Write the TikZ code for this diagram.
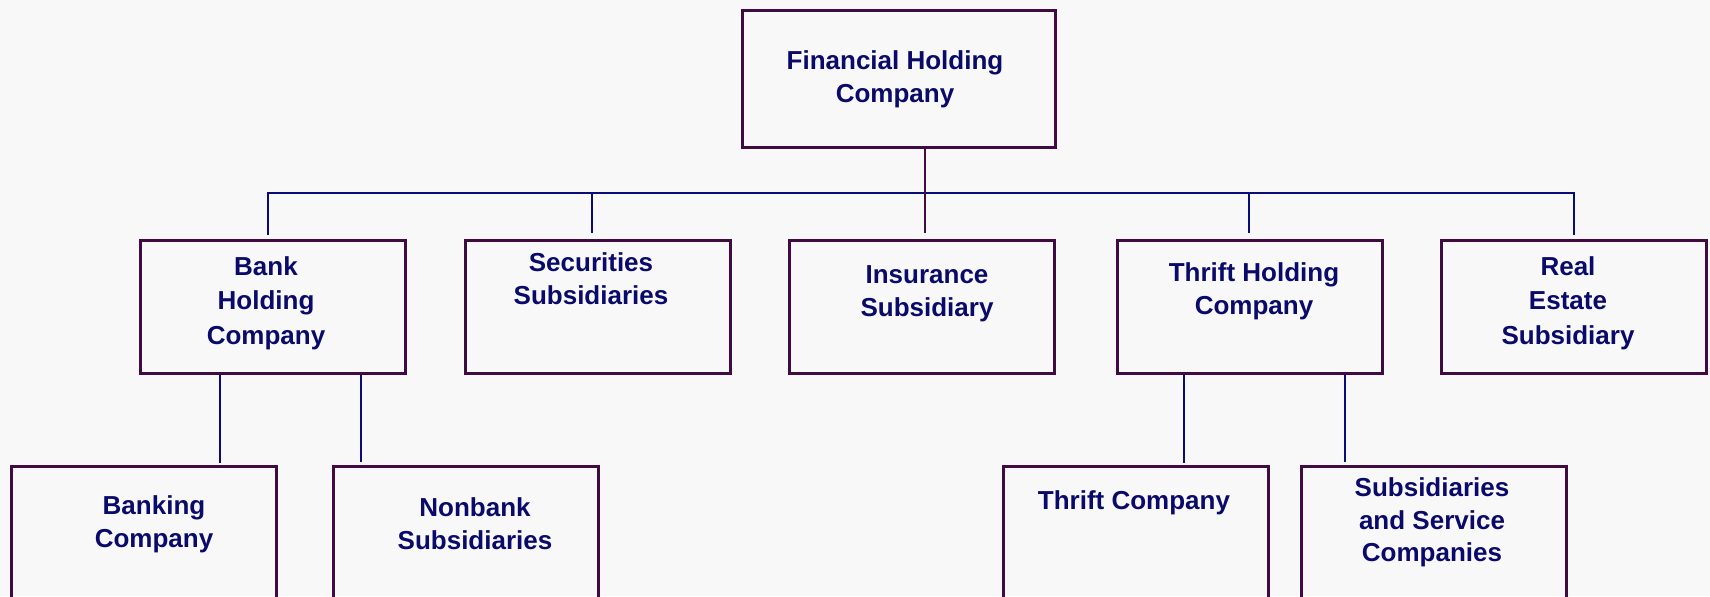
\documentclass[tikz,border=0pt]{standalone}
\usepackage{fontspec}
\setmainfont{Liberation Sans}
\definecolor{bgc}{HTML}{F8F8F8}
\definecolor{boxc}{HTML}{3F0B41}
\definecolor{txtc}{HTML}{0A0A6A}
\definecolor{linec}{HTML}{0A0A78}
\begin{document}
\begin{tikzpicture}[x=0.5pt,y=-0.5pt,
  box/.style={draw=boxc,line width=1.5pt,rectangle,inner sep=0pt,minimum height=66.5pt,minimum width=132.5pt},
  lbl/.style={text=txtc,font=\fontsize{13}{16.3}\selectfont\bfseries,align=center,inner sep=0pt},
  lblwide/.style={lbl,font=\fontsize{13}{17.3}\selectfont\bfseries},
  conn/.style={draw=linec,line width=1.1pt},
  trunkline/.style={draw=boxc,line width=1.1pt}]
\useasboundingbox (0,0) rectangle (1710,596);
\fill[bgc] (0,0) rectangle (1710,596);
\clip (0,0) rectangle (1710,596);
% boxes
\node[box,minimum width=156.5pt,minimum height=68.5pt] (fhc) at (898.5,78.5) {};
\node[box] (bhc) at (272.5,306.5) {};
\node[box] (sec) at (597.5,306.5) {};
\node[box] (ins) at (921.5,306.5) {};
\node[box] (thc) at (1249.5,306.5) {};
\node[box] (res) at (1574,306.5) {};
\node[box,minimum height=67pt] (bank) at (144,533) {};
\node[box,minimum height=67pt] (nonb) at (466,533) {};
\node[box,minimum height=67pt] (thr) at (1135.5,533) {};
\node[box,minimum height=67pt] (ssc) at (1433.5,533) {};
% labels
\node[lbl] (fhc-t) at (895,79) {Financial Holding\\Company};
\node[lblwide] (bhc-t) at (266,303) {Bank\\Holding\\Company};
\node[lbl] (sec-t) at (591,278.5) {Securities\\Subsidiaries};
\node[lbl] (ins-t) at (927,293.5) {Insurance\\Subsidiary};
\node[lbl] (thc-t) at (1254,291) {Thrift Holding\\Company};
\node[lblwide] (res-t) at (1568,303) {Real\\Estate\\Subsidiary};
\node[lbl] (bank-t) at (154,524.5) {Banking\\Company};
\node[lbl] (nonb-t) at (475,523.5) {Nonbank\\Subsidiaries};
\node[lbl] (thr-t) at (1134,503) {Thrift Company};
\node[lbl] (ssc-t) at (1432,522.5) {Subsidiaries\\and Service\\Companies};
% connector coordinates
\coordinate (h1) at (268,193);
\coordinate (h2) at (592,193);
\coordinate (h4) at (1249,193);
\coordinate (h5) at (1574,193);
\coordinate (d1) at (268,235);
\coordinate (d2) at (592,233);
\coordinate (d4) at (1249,233);
\coordinate (d5) at (1574,235);
\coordinate (trunk) at (925,233);
\coordinate (b1) at (220,463);
\coordinate (b2) at (361,462);
\coordinate (t1) at (1184,463);
\coordinate (t2) at (1345,462);
% connectors
\draw[conn] (d1) -- (h1) -- (h5) -- (d5);
\draw[conn] (h2) -- (d2);
\draw[conn] (h4) -- (d4);
\draw[trunkline] (fhc.south -| trunk) -- (trunk);
\draw[conn] (bhc.south -| b1) -- (b1);
\draw[conn] (bhc.south -| b2) -- (b2);
\draw[conn] (thc.south -| t1) -- (t1);
\draw[conn] (thc.south -| t2) -- (t2);
\end{tikzpicture}
\end{document}
